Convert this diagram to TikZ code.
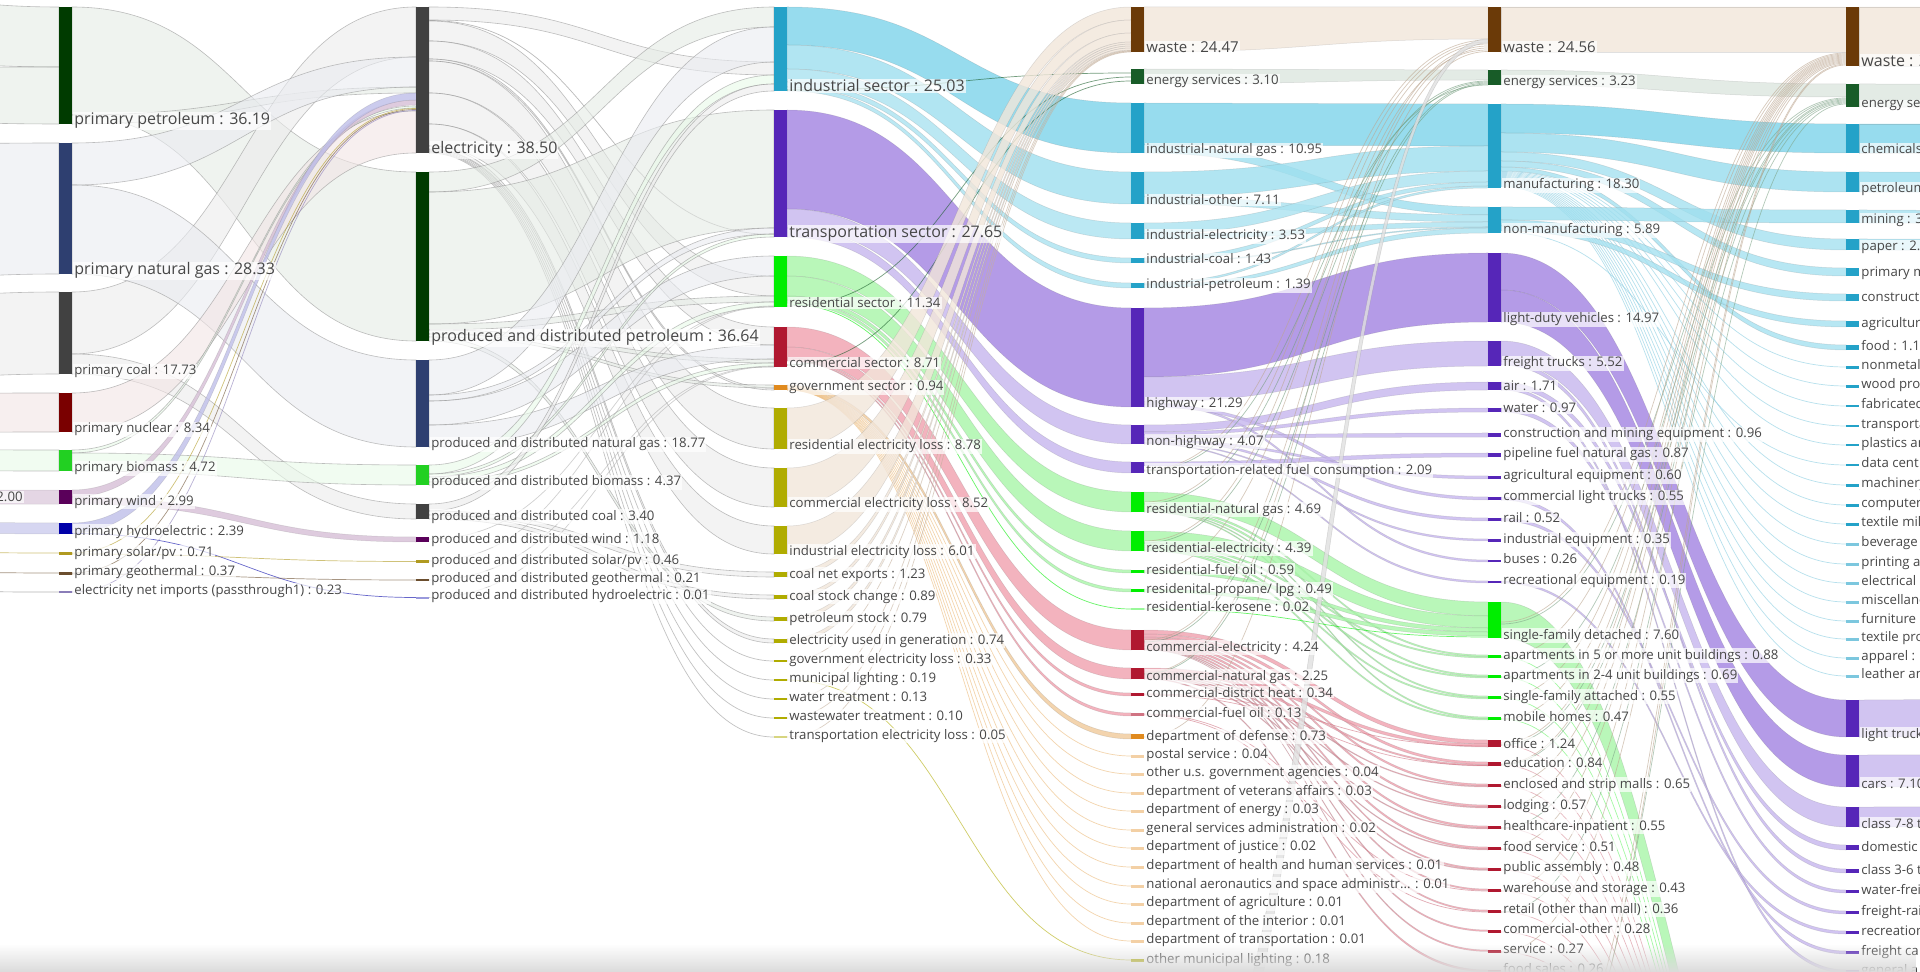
\documentclass[tikz,border=0pt]{standalone}
\usepackage{fontspec}
\setmainfont{Open Sans}
\usepackage{tikz}
\usetikzlibrary{positioning,calc,fadings}

\definecolor{cpet}{HTML}{003B00}
\definecolor{cgas}{HTML}{2E3F70}
\definecolor{ccoal}{HTML}{414141}
\definecolor{cnuc}{HTML}{7A0000}
\definecolor{cbio}{HTML}{22D022}
\definecolor{cwind}{HTML}{5A005A}
\definecolor{chyd}{HTML}{0000A8}
\definecolor{csol}{HTML}{B09A20}
\definecolor{cgeo}{HTML}{6B4E2E}
\definecolor{cimp}{HTML}{8A7DB8}
\definecolor{cind}{HTML}{24A2C8}
\definecolor{ctra}{HTML}{5626B8}
\definecolor{cres}{HTML}{00EE00}
\definecolor{ccom}{HTML}{B01830}
\definecolor{cgov}{HTML}{E08A1E}
\definecolor{closs}{HTML}{B0AC00}
\definecolor{cwaste}{HTML}{6B3A08}
\definecolor{cesv}{HTML}{185C28}
\definecolor{lteal}{HTML}{7ED4EA}
\definecolor{lpurp}{HTML}{A283E2}
\definecolor{lpurp2}{HTML}{C6B6EE}
\definecolor{lgreen}{HTML}{A8F5A8}
\definecolor{lpink}{HTML}{F0A0AE}
\definecolor{lbeige}{HTML}{F2E6DA}

\pgfdeclarelayer{bg}
\pgfsetlayers{bg,main}
\tikzfading[name=haze, top color=transparent!100, bottom color=transparent!0]

% bar with its label: [label style]{name}{x}{top}{bottom}{colour}{text}
\newcommand{\sbar}[7][lbl]{%
  \node[bar, fill=#6, minimum height={max(#5-#4,1.5)*0.5pt}] (#2) at (#3,#4) {};
  \node[#1, anchor=base west] (#2-t) at ($(#2.south east)+(1,1)$) {#7};}
% band between two bars: {style}{from}{top}{bottom}{to}{top}{bottom}
\newcommand{\flow}[7]{%
  \path ($(#2.north east)+(0,#3)$) coordinate (fa) ($(#2.north east)+(0,#4)$) coordinate (fb)
        ($(#5.north west)+(0,#6)$) coordinate (fc) ($(#5.north west)+(0,#7)$) coordinate (fd)
        ($(fa)!0.5!(fc)$) coordinate (fm);
  \path[#1] (fa) .. controls (fa -| fm) and (fc -| fm) .. (fc) -- (fd)
        .. controls (fd -| fm) and (fb -| fm) .. (fb) -- cycle;}
% single line between two bars
\newcommand{\strand}[5]{%
  \path ($(#2.north east)+(0,#3)$) coordinate (fa) ($(#4.north west)+(0,#5)$) coordinate (fc)
        ($(fa)!0.5!(fc)$) coordinate (fm);
  \draw[#1] (fa) .. controls (fa -| fm) and (fc -| fm) .. (fc);}

\begin{document}
\begin{tikzpicture}[
    x=0.5pt, y=-0.5pt,
    bar/.style={rectangle, inner sep=0pt, outer sep=0pt, anchor=north west, minimum width=6.5pt},
    hub/.style={inner sep=0pt, outer sep=0pt, minimum size=0pt},
    lbl/.style={font=\fontsize{6.6}{7}\selectfont, text=black!72, fill=white, fill opacity=0.7, text opacity=1, inner sep=0.5pt},
    bigl/.style={lbl, font=\fontsize{8}{9}\selectfont},
    midl/.style={lbl, font=\fontsize{7.5}{8}\selectfont},
    faint/.style={fill=#1!10, draw=black!45, line width=0.3pt, fill opacity=0.6, draw opacity=0.55},
    band/.style={fill=#1, draw=black!60, line width=0.25pt, fill opacity=0.8, draw opacity=0.2},
    strand/.style={draw=#1, line width=0.35pt, draw opacity=0.6}
]
\useasboundingbox (0,0) rectangle (1920,972);
\clip (0,0) rectangle (1920,972);

% hidden ends outside the frame
\node[hub] (src0) at (-298,0) {};
\node[hub] (low4) at (1144,0) {};
\node[hub] (low5) at (1501,0) {};
\node[hub] (blw6) at (1846,0) {};
\node[hub] (rgt) at (2203,0) {};
\node[lbl, anchor=base east] (src0-t) at (24,502) {2.00};

% primary sources
\sbar[bigl]{pet1}{59}{7}{124}{cpet}{primary petroleum : 36.19}
\sbar[bigl]{gas1}{59}{143}{274}{cgas}{primary natural gas : 28.33}
\sbar{coal1}{59}{292}{374}{ccoal}{primary coal : 17.73}
\sbar{nuc1}{59}{393}{432}{cnuc}{primary nuclear : 8.34}
\sbar{bio1}{59}{450}{471}{cbio}{primary biomass : 4.72}
\sbar{wind1}{59}{490}{504}{cwind}{primary wind : 2.99}
\sbar{hyd1}{59}{523}{534}{chyd}{primary hydroelectric : 2.39}
\sbar{sol1}{59}{552}{555}{csol}{primary solar/pv : 0.71}
\sbar{geo1}{59}{572}{574.5}{cgeo}{primary geothermal : 0.37}
\sbar{imp1}{59}{591}{593}{cimp}{electricity net imports (passthrough1) : 0.23}

% produced and distributed
\sbar[bigl]{elec2}{416}{7}{153}{ccoal}{electricity : 38.50}
\sbar[bigl]{pet2}{416}{172}{341}{cpet}{produced and distributed petroleum : 36.64}
\sbar{gas2}{416}{360}{447}{cgas}{produced and distributed natural gas : 18.77}
\sbar{bio2}{416}{465}{485}{cbio}{produced and distributed biomass : 4.37}
\sbar{coal2}{416}{504}{519}{ccoal}{produced and distributed coal : 3.40}
\sbar{wind2}{416}{537}{542}{cwind}{produced and distributed wind : 1.18}
\sbar{sol2}{416}{560}{563}{csol}{produced and distributed solar/pv : 0.46}
\sbar{geo2}{416}{579}{581}{cgeo}{produced and distributed geothermal : 0.21}
\sbar{hyd2}{416}{597}{598.5}{chyd!40}{produced and distributed hydroelectric : 0.01}

% sectors
\sbar[bigl]{ind3}{774}{7}{91}{cind}{industrial sector : 25.03}
\sbar[bigl]{tra3}{774}{110}{237}{ctra}{transportation sector : 27.65}
\sbar{res3}{774}{256}{307}{cres}{residential sector : 11.34}
\sbar{com3}{774}{327}{367}{ccom}{commercial sector : 8.71}
\sbar{gov3}{774}{385}{390}{cgov}{government sector : 0.94}
\sbar{rloss3}{774}{408}{449}{closs}{residential electricity loss : 8.78}
\sbar{closs3}{774}{468}{507}{closs}{commercial electricity loss : 8.52}
\sbar{iloss3}{774}{526}{554}{closs}{industrial electricity loss : 6.01}
\sbar{cnex3}{774}{572}{577}{closs}{coal net exports : 1.23}
\sbar{cstk3}{774}{595}{599}{closs}{coal stock change : 0.89}
\sbar{pstk3}{774}{617}{621}{closs}{petroleum stock : 0.79}
\sbar{egen3}{774}{639}{643}{closs}{electricity used in generation : 0.74}
\sbar{gloss3}{774}{660}{662}{closs}{government electricity loss : 0.33}
\sbar{mlt3}{774}{679}{681}{closs}{municipal lighting : 0.19}
\sbar{wtr3}{774}{698}{700}{closs}{water treatment : 0.13}
\sbar{wwtr3}{774}{717}{719}{closs}{wastewater treatment : 0.10}
\sbar{tloss3}{774}{736}{738}{closs!50}{transportation electricity loss : 0.05}

% end uses
\sbar[midl]{waste4}{1131}{7}{52}{cwaste}{waste : 24.47}
\sbar{esv4}{1131}{69}{84}{cesv}{energy services : 3.10}
\sbar{ingas4}{1131}{103}{153}{cind}{industrial-natural gas : 10.95}
\sbar{inoth4}{1131}{172}{204}{cind}{industrial-other : 7.11}
\sbar{inel4}{1131}{223}{239}{cind}{industrial-electricity : 3.53}
\sbar{incoal4}{1131}{258}{263}{cind}{industrial-coal : 1.43}
\sbar{inpet4}{1131}{283}{288}{cind}{industrial-petroleum : 1.39}
\sbar{hwy4}{1131}{308}{407}{ctra}{highway : 21.29}
\sbar{nhwy4}{1131}{425}{444}{ctra}{non-highway : 4.07}
\sbar{tfuel4}{1131}{462}{473}{ctra}{transportation-related fuel consumption : 2.09}
\sbar{rgas4}{1131}{492}{512}{cres}{residential-natural gas : 4.69}
\sbar{rel4}{1131}{531}{551}{cres}{residential-electricity : 4.39}
\sbar{roil4}{1131}{570}{573}{cres}{residential-fuel oil : 0.59}
\sbar{rprop4}{1131}{589}{592}{cres}{residenital-propane/ lpg : 0.49}
\sbar{rker4}{1131}{608}{610}{cres!40}{residential-kerosene : 0.02}
\sbar{cel4}{1131}{630}{650}{ccom}{commercial-electricity : 4.24}
\sbar{cgas4}{1131}{668}{679}{ccom}{commercial-natural gas : 2.25}
\sbar{cdh4}{1131}{693}{696}{ccom}{commercial-district heat : 0.34}
\sbar{coil4}{1131}{713}{716}{ccom!60}{commercial-fuel oil : 0.13}
\sbar{dod4}{1131}{734}{739}{cgov}{department of defense : 0.73}
\sbar{usps4}{1131}{755}{757.5}{cgov!40}{postal service : 0.04}
\sbar{ousg4}{1131}{773}{775.5}{cgov!40}{other u.s. government agencies : 0.04}
\sbar{dva4}{1131}{792}{794.5}{cgov!40}{department of veterans affairs : 0.03}
\sbar{doe4}{1131}{810}{812.5}{cgov!40}{department of energy : 0.03}
\sbar{gsa4}{1131}{829}{831.5}{cgov!40}{general services administration : 0.02}
\sbar{doj4}{1131}{847}{849.5}{cgov!40}{department of justice : 0.02}
\sbar{hhs4}{1131}{866}{868.5}{cgov!40}{department of health and human services : 0.01}
\sbar{nasa4}{1131}{885}{887.5}{cgov!40}{national aeronautics and space administr... : 0.01}
\sbar{usda4}{1131}{903}{905.5}{cgov!40}{department of agriculture : 0.01}
\sbar{doi4}{1131}{922}{924.5}{cgov!40}{department of the interior : 0.01}
\sbar{dot4}{1131}{940}{942.5}{cgov!40}{department of transportation : 0.01}
\sbar{oml4}{1131}{959}{962}{closs}{other municipal lighting : 0.18}

% sub-sectors
\sbar[midl]{waste5}{1488}{7}{52}{cwaste}{waste : 24.56}
\sbar{esv5}{1488}{70}{85}{cesv}{energy services : 3.23}
\sbar{mfg5}{1488}{104}{188}{cind}{manufacturing : 18.30}
\sbar{nmfg5}{1488}{207}{233}{cind}{non-manufacturing : 5.89}
\sbar{ldv5}{1488}{253}{322}{ctra}{light-duty vehicles : 14.97}
\sbar{ftr5}{1488}{341}{366}{ctra}{freight trucks : 5.52}
\sbar{air5}{1488}{382}{390}{ctra}{air : 1.71}
\sbar{wat5}{1488}{408}{412}{ctra}{water : 0.97}
\sbar{cme5}{1488}{433}{437}{ctra}{construction and mining equipment : 0.96}
\sbar{pipe5}{1488}{453}{457}{ctra}{pipeline fuel natural gas : 0.87}
\sbar{agq5}{1488}{476}{479}{ctra}{agricultural equipment : 0.60}
\sbar{clt5}{1488}{497}{500}{ctra}{commercial light trucks : 0.55}
\sbar{rail5}{1488}{518}{521}{ctra}{rail : 0.52}
\sbar{ieq5}{1488}{539}{542}{ctra}{industrial equipment : 0.35}
\sbar{bus5}{1488}{560}{562}{ctra}{buses : 0.26}
\sbar{req5}{1488}{581}{583}{ctra}{recreational equipment : 0.19}
\sbar{sfd5}{1488}{602}{638}{cres}{single-family detached : 7.60}
\sbar{apt5a}{1488}{655}{658}{cres}{apartments in 5 or more unit buildings : 0.88}
\sbar{apt5b}{1488}{675}{678}{cres}{apartments in 2-4 unit buildings : 0.69}
\sbar{sfa5}{1488}{696}{699}{cres}{single-family attached : 0.55}
\sbar{mob5}{1488}{717}{720}{cres}{mobile homes : 0.47}
\sbar{off5}{1488}{740}{747}{ccom}{office : 1.24}
\sbar{edu5}{1488}{762}{766}{ccom}{education : 0.84}
\sbar{mall5}{1488}{784}{787}{ccom}{enclosed and strip malls : 0.65}
\sbar{lodg5}{1488}{805}{808}{ccom}{lodging : 0.57}
\sbar{hcare5}{1488}{826}{829}{ccom}{healthcare-inpatient : 0.55}
\sbar{fsv5}{1488}{847}{850}{ccom}{food service : 0.51}
\sbar{pasm5}{1488}{868}{870.5}{ccom}{public assembly : 0.48}
\sbar{whs5}{1488}{889}{891.5}{ccom}{warehouse and storage : 0.43}
\sbar{ret5}{1488}{910}{912.5}{ccom}{retail (other than mall) : 0.36}
\sbar{coth5}{1488}{930}{932.5}{ccom}{commercial-other : 0.28}
\sbar{serv5}{1488}{950}{952.5}{ccom}{service : 0.27}
\sbar{fsal5}{1488}{970}{972.5}{ccom}{food sales : 0.26}

% last column, cut by the right edge
\sbar[bigl]{waste6}{1846}{7}{66}{cwaste}{waste : 2}
\sbar{esv6}{1846}{84}{107}{cesv}{energy se}
\sbar{chem6}{1846}{124}{153}{cind}{chemicals}
\sbar{pet6}{1846}{172}{192}{cind}{petroleum}
\sbar{mine6}{1846}{210}{223}{cind}{mining : 3}
\sbar{pap6}{1846}{239}{250}{cind}{paper : 2.}
\sbar{pmet6}{1846}{268}{276}{cind}{primary m}
\sbar{cons6}{1846}{294}{301}{cind}{constructi}
\sbar{agr6}{1846}{321}{327}{cind}{agricultur}
\sbar{food6}{1846}{345}{350}{cind}{food : 1.1}
\sbar{nmet6}{1846}{366}{369}{cind}{nonmetal}
\sbar{wood6}{1846}{385}{388}{cind}{wood pro}
\sbar{fab6}{1846}{405}{407.5}{cind}{fabricated}
\sbar{trq6}{1846}{425}{427.5}{cind}{transporta}
\sbar{plas6}{1846}{444}{446.5}{cind}{plastics an}
\sbar{data6}{1846}{464}{466.5}{cind}{data cent}
\sbar{mach6}{1846}{484}{486.5}{cind}{machinery}
\sbar{comp6}{1846}{504}{506.5}{cind}{computer}
\sbar{tmil6}{1846}{523}{525.5}{cind}{textile mil}
\sbar{bev6}{1846}{543}{545.5}{cind!60}{beverage}
\sbar{prnt6}{1846}{563}{565.5}{cind!60}{printing a}
\sbar{elq6}{1846}{582}{584.5}{cind!60}{electrical}
\sbar{misc6}{1846}{601}{603.5}{cind!60}{miscellane}
\sbar{furn6}{1846}{620}{622.5}{cind!60}{furniture a}
\sbar{tpro6}{1846}{638}{640.5}{cind!60}{textile pro}
\sbar{app6}{1846}{657}{659.5}{cind!60}{apparel :}
\sbar{lea6}{1846}{675}{677.5}{cind!60}{leather an}
\sbar{ltr6}{1846}{700}{737}{ctra}{light truck}
\sbar{car6}{1846}{755}{787}{ctra}{cars : 7.10}
\sbar{c78}{1846}{807}{827}{ctra}{class 7-8 t}
\sbar{dom6}{1846}{845}{850}{ctra}{domestic}
\sbar{c36}{1846}{869}{873}{ctra}{class 3-6 t}
\sbar{wfr6}{1846}{890}{893}{ctra}{water-frei}
\sbar{frr6}{1846}{911}{914}{ctra}{freight-rai}
\sbar{rec6}{1846}{931}{934}{ctra}{recreation}
\sbar{fca6}{1846}{951}{954}{ctra}{freight ca}
\sbar{gen6}{1846}{970}{973}{ctra}{general a}

\begin{pgfonlayer}{bg}
\clip (0,0) rectangle (1920,972);
\fill[white] (0,0) rectangle (1920,972);
% into the primary sources
\flow{faint=cpet}{src0}{-40}{40}{pet1}{0}{60}
\flow{faint=cpet}{src0}{70}{110}{pet1}{60}{117}
\flow{faint=cgas}{src0}{150}{300}{gas1}{0}{131}
\flow{faint=ccoal}{src0}{320}{400}{coal1}{0}{82}
\flow{faint=cnuc}{src0}{395}{434}{nuc1}{0}{39}
\flow{faint=cbio}{src0}{448}{469}{bio1}{0}{21}
\flow{band=cwind!20}{src0}{494}{508}{wind1}{0}{14}
\flow{band=chyd!20}{src0}{512}{523}{hyd1}{0}{11}
\strand{strand=csol}{src0}{548}{sol1}{1}
\strand{strand=cgeo}{src0}{566}{geo1}{1}
\strand{strand=black!50}{src0}{588}{imp1}{1}
% primary -> produced and distributed
\flow{faint=cpet}{pet1}{0}{108}{pet2}{0}{169}
\flow{faint=cpet}{pet1}{108}{117}{elec2}{80}{86}
\flow{faint=ccoal}{coal1}{0}{62}{elec2}{0}{50}
\flow{faint=ccoal}{coal1}{62}{82}{coal2}{0}{15}
\flow{faint=cgas}{gas1}{0}{42}{elec2}{50}{80}
\flow{faint=cgas}{gas1}{42}{131}{gas2}{0}{87}
\flow{faint=cnuc}{nuc1}{0}{39}{elec2}{104}{146}
\flow{faint=cbio}{bio1}{0}{3}{elec2}{99}{101}
\flow{faint=cbio}{bio1}{3}{21}{bio2}{0}{20}
\flow{band=cwind!25}{wind1}{0}{7}{elec2}{93}{98}
\flow{band=cwind!25}{wind1}{7}{14}{wind2}{0}{5}
\flow{band=chyd!25}{hyd1}{0}{10}{elec2}{86}{93}
\strand{strand=chyd}{hyd1}{10.5}{hyd2}{0.5}
\strand{strand=csol}{sol1}{1}{elec2}{101.5}
\strand{strand=csol}{sol1}{2}{sol2}{1.5}
\strand{strand=cgeo}{geo1}{1}{elec2}{102.5}
\strand{strand=cgeo}{geo1}{2}{geo2}{1}
\strand{strand=cimp}{imp1}{1}{elec2}{103.5}
% produced and distributed -> sectors
\flow{faint=ccoal}{elec2}{0}{13}{ind3}{55}{68}
\strand{strand=black!45}{elec2}{13.5}{tra3}{124.5}
\flow{faint=ccoal}{elec2}{14}{34}{res3}{20}{40}
\flow{faint=ccoal}{elec2}{34}{52}{com3}{0}{18}
\flow{faint=ccoal}{elec2}{52}{54}{gov3}{3}{5}
\flow{faint=ccoal}{elec2}{54}{86}{rloss3}{0}{41}
\flow{faint=ccoal}{elec2}{86}{117}{closs3}{0}{39}
\flow{faint=ccoal}{elec2}{117}{139}{iloss3}{0}{28}
\flow{faint=ccoal}{elec2}{139}{142}{egen3}{0}{4}
\strand{strand=black!40}{elec2}{142.5}{gloss3}{1}
\strand{strand=black!40}{elec2}{143.5}{mlt3}{1}
\strand{strand=black!40}{elec2}{144.5}{wtr3}{1}
\strand{strand=black!40}{elec2}{145.3}{wwtr3}{1}
\strand{strand=black!40}{elec2}{146}{tloss3}{1}
\flow{faint=cpet}{pet2}{0}{20}{ind3}{0}{20}
\flow{faint=cpet}{pet2}{20}{152}{tra3}{0}{118}
\flow{faint=cpet}{pet2}{152}{158}{res3}{40}{46}
\flow{faint=cpet}{pet2}{158}{162}{com3}{32}{36}
\flow{faint=cpet}{pet2}{162}{165}{gov3}{0}{3}
\flow{faint=cpet}{pet2}{165}{169}{pstk3}{0}{4}
\flow{faint=cgas}{gas2}{0}{35}{ind3}{20}{55}
\flow{faint=cgas}{gas2}{35}{41}{tra3}{118}{124}
\flow{faint=cgas}{gas2}{41}{65}{res3}{0}{20}
\flow{faint=cgas}{gas2}{65}{87}{com3}{18}{32}
\flow{faint=cbio}{bio2}{0}{9}{ind3}{68}{77}
\flow{faint=cbio}{bio2}{9}{12}{tra3}{124}{127}
\flow{faint=cbio}{bio2}{12}{17}{res3}{46}{51}
\flow{faint=cbio}{bio2}{17}{20}{com3}{36}{40}
\flow{faint=ccoal}{coal2}{0}{7}{ind3}{77}{84}
\flow{faint=ccoal}{coal2}{7}{11}{cnex3}{0}{5}
\flow{faint=ccoal}{coal2}{11}{15}{cstk3}{0}{4}
\strand{strand=black!30}{wind2}{2}{res3}{50}
\strand{strand=black!30}{sol2}{1}{res3}{50.5}
\strand{strand=black!30}{geo2}{1}{com3}{39}
\strand{strand=black!30}{hyd2}{0.5}{com3}{39.5}
% sectors -> end uses
\flow{band=lteal}{ind3}{0}{38}{ingas4}{0}{50}
\flow{band=lteal!75}{ind3}{38}{62}{inoth4}{0}{32}
\flow{band=lteal!65}{ind3}{62}{75}{inel4}{0}{16}
\flow{band=lteal!65}{ind3}{75}{80}{incoal4}{0}{5}
\flow{band=lteal!65}{ind3}{80}{84}{inpet4}{0}{5}
\strand{strand=cesv}{ind3}{83}{esv4}{4}
\flow{band=lpurp}{tra3}{0}{99}{hwy4}{0}{99}
\flow{band=lpurp2}{tra3}{99}{118}{nhwy4}{0}{19}
\flow{band=lpurp2}{tra3}{118}{127}{tfuel4}{0}{11}
\flow{band=lgreen}{res3}{0}{20}{rgas4}{0}{20}
\flow{band=lgreen}{res3}{20}{40}{rel4}{0}{20}
\flow{band=lgreen}{res3}{40}{44}{roil4}{0}{3}
\flow{band=lgreen}{res3}{44}{47}{rprop4}{0}{3}
\strand{strand=cres}{res3}{48}{rker4}{1}
\strand{strand=cesv}{res3}{50}{esv4}{8}
\flow{band=lpink}{com3}{0}{20}{cel4}{0}{20}
\flow{band=lpink}{com3}{20}{31}{cgas4}{0}{11}
\flow{band=lpink}{com3}{31}{33}{cdh4}{0}{3}
\flow{band=lpink}{com3}{33}{34}{coil4}{0}{3}
\strand{strand=cesv}{com3}{38}{esv4}{12}
\flow{band=cgov!45}{gov3}{0}{3}{dod4}{0}{5}
\strand{strand=cgov!60}{gov3}{3.2}{usps4}{1}
\strand{strand=cgov!60}{gov3}{3.4}{ousg4}{1}
\strand{strand=cgov!60}{gov3}{3.6}{dva4}{1}
\strand{strand=cgov!60}{gov3}{3.8}{doe4}{1}
\strand{strand=cgov!60}{gov3}{4.0}{gsa4}{1}
\strand{strand=cgov!60}{gov3}{4.2}{doj4}{1}
\strand{strand=cgov!60}{gov3}{4.4}{hhs4}{1}
\strand{strand=cgov!60}{gov3}{4.6}{nasa4}{1}
\strand{strand=cgov!60}{gov3}{4.8}{usda4}{1}
\strand{strand=cgov!60}{gov3}{4.9}{doi4}{1}
\strand{strand=cgov!60}{gov3}{5}{dot4}{1}
\flow{band=lbeige}{rloss3}{0}{41}{waste4}{0}{13}
\flow{band=lbeige}{closs3}{0}{39}{waste4}{13}{26}
\flow{band=lbeige}{iloss3}{0}{28}{waste4}{26}{35}
\flow{band=lbeige}{cnex3}{0}{5}{waste4}{35}{37}
\flow{band=lbeige}{cstk3}{0}{4}{waste4}{37}{39}
\flow{band=lbeige}{pstk3}{0}{4}{waste4}{39}{41}
\flow{band=lbeige}{egen3}{0}{4}{waste4}{41}{43}
\strand{strand=cwaste!40}{gloss3}{1}{waste4}{43.5}
\strand{strand=cwaste!40}{wtr3}{1}{waste4}{44}
\strand{strand=cwaste!40}{wwtr3}{1}{waste4}{44.5}
\strand{strand=cwaste!40}{tloss3}{1}{waste4}{45}
\strand{strand=closs}{mlt3}{1}{oml4}{1}
% end uses -> sub-sectors
\flow{band=lbeige}{waste4}{0}{45}{waste5}{0}{32}
\flow{band=cesv!15}{esv4}{0}{15}{esv5}{0}{10}
\flow{band=lteal}{ingas4}{0}{42}{mfg5}{0}{42}
\flow{band=lteal!75}{ingas4}{42}{50}{nmfg5}{0}{8}
\flow{band=lteal!75}{inoth4}{0}{25}{mfg5}{42}{67}
\flow{band=lteal!65}{inoth4}{25}{32}{nmfg5}{8}{15}
\flow{band=lteal!65}{inel4}{0}{11}{mfg5}{67}{78}
\flow{band=lteal!65}{inel4}{11}{16}{nmfg5}{15}{20}
\flow{band=lteal!65}{incoal4}{0}{4}{mfg5}{78}{82}
\flow{band=lteal!65}{incoal4}{4}{5}{nmfg5}{20}{21}
\flow{band=lteal!65}{inpet4}{0}{2}{mfg5}{82}{84}
\flow{band=lteal!65}{inpet4}{2}{5}{nmfg5}{21}{26}
\flow{band=lpurp}{hwy4}{0}{69}{ldv5}{0}{69}
\flow{band=lpurp2}{hwy4}{69}{94}{ftr5}{0}{25}
\flow{band=lpurp2}{hwy4}{94}{96}{bus5}{0}{2}
\flow{band=lpurp2}{hwy4}{96}{99}{clt5}{0}{3}
\flow{band=lpurp2}{nhwy4}{0}{7}{air5}{0}{8}
\flow{band=lpurp2}{nhwy4}{7}{10}{wat5}{0}{4}
\flow{band=lpurp2}{nhwy4}{10}{13}{cme5}{0}{4}
\flow{band=lpurp2}{nhwy4}{13}{15}{rail5}{0}{3}
\flow{band=lpurp2}{nhwy4}{15}{17}{agq5}{0}{3}
\flow{band=lpurp2}{nhwy4}{17}{18}{ieq5}{0}{2}
\flow{band=lpurp2}{nhwy4}{18}{19}{req5}{0}{2}
\flow{band=lpurp2}{tfuel4}{0}{4}{pipe5}{0}{4}
\flow{band=lgreen}{rgas4}{0}{14}{sfd5}{0}{14}
\flow{band=lgreen}{rgas4}{14}{16}{apt5a}{0}{1.5}
\flow{band=lgreen}{rgas4}{16}{18}{apt5b}{0}{1.5}
\flow{band=lgreen}{rgas4}{18}{19}{sfa5}{0}{1.5}
\flow{band=lgreen}{rgas4}{19}{20}{mob5}{0}{1.5}
\flow{band=lgreen}{rel4}{0}{12}{sfd5}{14}{26}
\flow{band=lgreen}{rel4}{12}{14}{apt5a}{1.5}{3}
\flow{band=lgreen}{rel4}{14}{16}{apt5b}{1.5}{3}
\flow{band=lgreen}{rel4}{16}{18}{sfa5}{1.5}{3}
\flow{band=lgreen}{rel4}{18}{20}{mob5}{1.5}{3}
\flow{band=lgreen}{roil4}{0}{3}{sfd5}{26}{30}
\flow{band=lgreen}{rprop4}{0}{3}{sfd5}{30}{34}
\strand{strand=cres}{rker4}{1}{sfd5}{35}
\flow{band=lpink}{cel4}{0}{4}{off5}{0}{4}
\flow{band=lpink}{cel4}{4}{7}{edu5}{0}{2.5}
\flow{band=lpink}{cel4}{7}{9}{mall5}{0}{2}
\flow{band=lpink}{cel4}{9}{11}{lodg5}{0}{2}
\flow{band=lpink}{cel4}{11}{13}{hcare5}{0}{2}
\flow{band=lpink}{cel4}{13}{15}{fsv5}{0}{2}
\flow{band=lpink}{cel4}{15}{16.5}{pasm5}{0}{1.5}
\flow{band=lpink}{cel4}{16.5}{18}{whs5}{0}{1.5}
\flow{band=lpink}{cel4}{18}{19}{ret5}{0}{1.5}
\flow{band=lpink}{cel4}{19}{19.7}{coth5}{0}{1.5}
\flow{band=lpink}{cel4}{19.7}{20}{serv5}{0}{1.5}
\flow{band=lpink}{cgas4}{0}{3}{off5}{4}{7}
\flow{band=lpink}{cgas4}{3}{5}{edu5}{2.5}{4}
\flow{band=lpink}{cgas4}{5}{6}{mall5}{2}{3}
\flow{band=lpink}{cgas4}{6}{7}{lodg5}{2}{3}
\flow{band=lpink}{cgas4}{7}{8}{hcare5}{2}{3}
\flow{band=lpink}{cgas4}{8}{9}{fsv5}{2}{3}
\flow{band=lpink}{cgas4}{9}{10}{pasm5}{1.5}{2.5}
\flow{band=lpink}{cgas4}{10}{11}{fsal5}{0}{2}
\strand{strand=ccom!60}{cdh4}{1}{off5}{6}
\strand{strand=ccom!60}{cdh4}{2}{edu5}{3.5}
\strand{strand=ccom!60}{coil4}{1}{whs5}{2}
\strand{strand=ccom!60}{coil4}{2}{ret5}{2}
\strand{strand=cwaste!45}{tfuel4}{8}{waste5}{33}
\strand{strand=cwaste!45}{rgas4}{10}{waste5}{35}
\strand{strand=cwaste!45}{rel4}{10}{waste5}{37}
\strand{strand=cwaste!45}{cel4}{10}{waste5}{39}
\strand{strand=cwaste!45}{cgas4}{5}{waste5}{41}
\strand{strand=cwaste!45}{roil4}{2}{waste5}{43}
\strand{strand=cwaste!45}{dod4}{3}{waste5}{44.5}
\strand{strand=cesv!60}{rgas4}{12}{esv5}{11}
\strand{strand=cesv!60}{rel4}{12}{esv5}{12}
\strand{strand=cesv!60}{cel4}{12}{esv5}{13}
\strand{strand=cesv!60}{cgas4}{6}{esv5}{14}
\strand{strand=cesv!60}{tfuel4}{9}{esv5}{15}
\flow{band=black!12}{low4}{1180}{1240}{waste5}{32}{36}
% sub-sectors -> last column
\flow{band=lbeige}{waste5}{0}{45}{waste6}{0}{45}
\flow{band=cesv!15}{esv5}{0}{15}{esv6}{0}{13}
\flow{band=lteal}{mfg5}{0}{29}{chem6}{0}{29}
\flow{band=lteal!80}{mfg5}{29}{48}{pet6}{0}{20}
\flow{band=lteal!70}{mfg5}{48}{57}{pap6}{0}{11}
\flow{band=lteal!70}{mfg5}{57}{63}{pmet6}{0}{8}
\flow{band=lteal!70}{mfg5}{63}{67}{food6}{0}{5}
\strand{strand=cind!55}{mfg5}{67.5}{nmet6}{1}
\strand{strand=cind!55}{mfg5}{68.5}{wood6}{1}
\strand{strand=cind!55}{mfg5}{69.5}{fab6}{1}
\strand{strand=cind!55}{mfg5}{70.5}{trq6}{1}
\strand{strand=cind!55}{mfg5}{71.5}{plas6}{1}
\strand{strand=cind!55}{mfg5}{72.5}{mach6}{1}
\strand{strand=cind!55}{mfg5}{73.5}{comp6}{1}
\strand{strand=cind!55}{mfg5}{74.5}{tmil6}{1}
\strand{strand=cind!55}{mfg5}{75.5}{bev6}{1}
\strand{strand=cind!55}{mfg5}{76.5}{prnt6}{1}
\strand{strand=cind!55}{mfg5}{77.5}{elq6}{1}
\strand{strand=cind!55}{mfg5}{78.5}{misc6}{1}
\strand{strand=cind!55}{mfg5}{79.5}{furn6}{1}
\strand{strand=cind!55}{mfg5}{80.5}{tpro6}{1}
\strand{strand=cind!55}{mfg5}{81.5}{app6}{1}
\strand{strand=cind!55}{mfg5}{82.5}{lea6}{1}
\flow{band=lteal!75}{nmfg5}{0}{13}{mine6}{0}{13}
\flow{band=lteal!70}{nmfg5}{13}{19}{cons6}{0}{7}
\flow{band=lteal!70}{nmfg5}{19}{24}{agr6}{0}{6}
\strand{strand=cind!55}{nmfg5}{25}{data6}{1}
\flow{band=lpurp}{ldv5}{0}{37}{ltr6}{0}{37}
\flow{band=lpurp}{ldv5}{37}{69}{car6}{0}{32}
\flow{band=lpurp2}{ftr5}{0}{20}{c78}{0}{20}
\flow{band=lpurp2}{ftr5}{20}{24}{c36}{0}{4}
\flow{band=lpurp2}{air5}{0}{5}{dom6}{0}{5}
\flow{band=lpurp2}{air5}{5}{8}{gen6}{0}{3}
\flow{band=lpurp2}{wat5}{0}{4}{wfr6}{0}{3}
\flow{band=lpurp2}{rail5}{0}{3}{frr6}{0}{3}
\flow{band=lpurp2}{req5}{0}{2}{rec6}{0}{3}
\flow{band=lpurp2}{clt5}{0}{3}{fca6}{0}{3}
\flow{band=lgreen}{sfd5}{0}{36}{blw6}{1300}{1336}
\strand{strand=cres!60}{apt5a}{2}{blw6}{1340}
\strand{strand=cres!60}{apt5b}{2}{blw6}{1342}
\strand{strand=cres!60}{sfa5}{2}{blw6}{1344}
\strand{strand=cres!60}{mob5}{2}{blw6}{1346}
\strand{strand=ccom!50}{off5}{5}{blw6}{1360}
\strand{strand=ccom!50}{edu5}{3}{blw6}{1362}
\strand{strand=ccom!50}{mall5}{2}{blw6}{1364}
\strand{strand=ccom!50}{lodg5}{2}{blw6}{1366}
\strand{strand=ccom!50}{hcare5}{2}{blw6}{1368}
\strand{strand=ccom!50}{fsv5}{2}{blw6}{1370}
\strand{strand=ccom!50}{pasm5}{2}{blw6}{1372}
\strand{strand=ccom!50}{whs5}{2}{blw6}{1374}
\strand{strand=ccom!50}{ret5}{2}{blw6}{1376}
\strand{strand=ccom!50}{coth5}{2}{blw6}{1378}
\strand{strand=ccom!50}{serv5}{2}{blw6}{1380}
\strand{strand=cwaste!45}{sfd5}{20}{waste6}{46}
\strand{strand=cesv!55}{sfd5}{22}{esv6}{14}
\strand{strand=cwaste!45}{apt5a}{2}{waste6}{47}
\strand{strand=cesv!55}{apt5b}{2}{esv6}{15}
\strand{strand=cwaste!45}{sfa5}{2}{waste6}{48}
\strand{strand=cwaste!45}{mob5}{2}{waste6}{49}
\strand{strand=cwaste!45}{off5}{3}{waste6}{50}
\strand{strand=cesv!55}{off5}{5}{esv6}{16}
\strand{strand=cwaste!45}{edu5}{2}{waste6}{51}
\strand{strand=cesv!55}{edu5}{3}{esv6}{17}
\strand{strand=cwaste!45}{mall5}{2}{waste6}{52}
\strand{strand=cwaste!45}{lodg5}{2}{waste6}{53}
\strand{strand=cesv!55}{hcare5}{2}{esv6}{18}
\strand{strand=cwaste!45}{fsv5}{2}{waste6}{54}
\strand{strand=cwaste!45}{whs5}{2}{waste6}{55}
\strand{strand=cesv!55}{ret5}{2}{esv6}{19}
\strand{strand=cwaste!45}{serv5}{2}{waste6}{56}
\strand{strand=cwaste!45}{low5}{1150}{waste6}{57}
\strand{strand=cesv!55}{low5}{1160}{esv6}{20}
\strand{strand=cwaste!45}{low5}{1170}{waste6}{58}
% out of the frame on the right
\flow{band=lbeige}{waste6}{0}{59}{rgt}{7}{66}
\flow{band=cesv!15}{esv6}{0}{23}{rgt}{86}{109}
\flow{band=lteal}{chem6}{0}{29}{rgt}{124}{153}
\flow{band=lteal!80}{pet6}{0}{20}{rgt}{176}{196}
\flow{band=lteal!70}{mine6}{0}{13}{rgt}{216}{229}
\flow{band=lteal!70}{pap6}{0}{11}{rgt}{244}{255}
\flow{band=lpurp2}{ltr6}{0}{37}{rgt}{690}{727}
\flow{band=lpurp2}{car6}{0}{32}{rgt}{750}{782}
\flow{band=lpurp2}{c78}{0}{20}{rgt}{805}{825}
\end{pgfonlayer}

% grey haze along the bottom edge
\fill[black!14, path fading=haze] (0,944) rectangle (1920,972);
\end{tikzpicture}
\end{document}
